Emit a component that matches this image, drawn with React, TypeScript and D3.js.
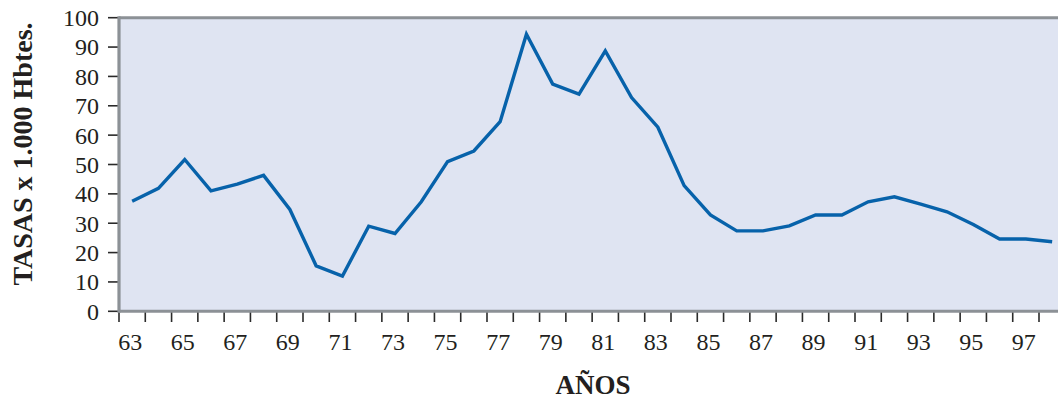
import React from "react";
import * as d3 from "d3";

const years: number[] = [63,64,65,66,67,68,69,70,71,72,73,74,75,76,77,78,79,80,81,82,83,84,85,86,87,88,89,90,91,92,93,94,95,96,97,98];
const rates: number[] = [37.5,41.9,51.7,41,43.3,46.3,34.7,15.5,12,29,26.5,37.3,51,54.6,64.6,94.4,77.4,74,88.7,72.8,62.7,42.8,32.8,27.4,27.4,29.1,32.8,32.8,37.3,39,36.5,33.9,29.6,24.6,24.6,23.7];
const yTicks: number[] = [0,10,20,30,40,50,60,70,80,90,100];
const xLabels: number[] = [63,65,67,69,71,73,75,77,79,81,83,85,87,89,91,93,95,97];
const yTitle = "TASAS x 1.000 Hbtes.";
const xTitle = "AÑOS";

export default function App() {
  const W = 1058, H = 402;
  const left = 119, top = 17.7, bottom = 311.3;
  const bw = 920 / 35;
  const right = left + bw * years.length;
  const x = d3.scaleBand<number>().domain(years).range([left, right]).padding(0);
  const y = d3.scaleLinear().domain([0, 100]).range([bottom, top]);
  const line = d3.line<number>()
    .x((_, i) => (x(years[i]) as number) + x.bandwidth() / 2)
    .y((d) => y(d));
  const font = "'Liberation Serif', 'Times New Roman', serif";
  return (
    <svg width={W} height={H} style={{ position: "absolute", left: 0, top: 0 }} fontFamily={font}>
      <rect x={left} y={top} width={W - left} height={bottom - top} fill="#dfe4f2" />
      <line x1={left} x2={W} y1={top} y2={top} stroke="#8c9196" strokeWidth={3} />
      {yTicks.map((t) => (
        <g key={"y" + t}>
          <line x1={108} x2={left} y1={y(t)} y2={y(t)} stroke="#2a2a2a" strokeWidth={1.6} />
          <text x={99} y={y(t)} dy="0.35em" textAnchor="end" fontSize={24} fill="#231f20">{t}</text>
        </g>
      ))}
      {years.map((yr) => (
        <line key={"xt" + yr} x1={x(yr) as number} x2={x(yr) as number} y1={bottom} y2={322} stroke="#2a2a2a" strokeWidth={1.6} />
      ))}
      {xLabels.map((yr) => (
        <text key={"xl" + yr} x={(x(yr) as number) + x.bandwidth() / 2 - 2} y={350} textAnchor="middle" fontSize={24} fill="#231f20">{yr}</text>
      ))}
      <line x1={left} x2={left} y1={top - 1.5} y2={bottom + 1.5} stroke="#8c9196" strokeWidth={3.2} />
      <line x1={left} x2={W} y1={bottom} y2={bottom} stroke="#8c9196" strokeWidth={3} />
      <path d={line(rates) || ""} fill="none" stroke="#0762aa" strokeWidth={3.4} strokeLinejoin="miter" />
      <text transform={`translate(32,154) rotate(-90)`} textAnchor="middle" fontSize={28} fontWeight="bold" fill="#231f20">{yTitle}</text>
      <text x={593} y={394} textAnchor="middle" fontSize={27} fontWeight="bold" fill="#231f20">{xTitle}</text>
    </svg>
  );
}
